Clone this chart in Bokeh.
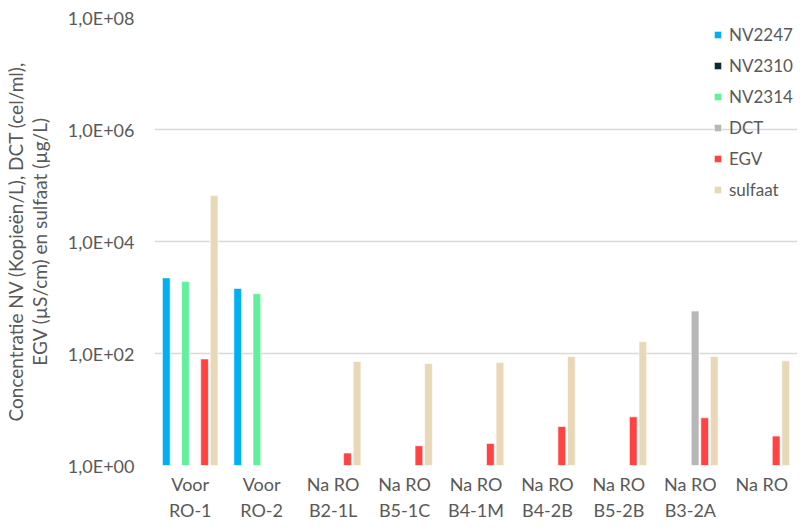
from bokeh.plotting import figure
from bokeh.models import ColumnDataSource, FactorRange, Range1d, FixedTicker, Legend, LegendItem
from bokeh.transform import dodge
from bokeh.embed import file_html
from bokeh.resources import INLINE

nan = float("nan")

categories = ["Voor\nRO-1", "Voor\nRO-2", "Na RO\nB2-1L", "Na RO\nB5-1C", "Na RO\nB4-1M",
              "Na RO\nB4-2B", "Na RO\nB5-2B", "Na RO\nB3-2A", "Na RO"]

nv2247 = [2240, 1450, nan, nan, nan, nan, nan, nan, nan]
nv2310 = [nan, nan, nan, nan, nan, nan, nan, nan, nan]
nv2314 = [1940, 1170, nan, nan, nan, nan, nan, nan, nan]
dct = [nan, nan, nan, nan, nan, nan, nan, 572, nan]
egv = [80, nan, 1.67, 2.25, 2.47, 4.97, 7.4, 7.1, 3.35]
sulfaat = [66000, nan, 72, 66, 69, 88, 162, 88, 74]

series_names = ["NV2247", "NV2310", "NV2314", "DCT", "EGV", "sulfaat"]
series_values = [nv2247, nv2310, nv2314, dct, egv, sulfaat]
series_colors = ["#00B0F0", "#0E2A35", "#62F09C", "#B7B7B7", "#FF4343", "#E8D8B8"]

y_ticks = [1, 1e2, 1e4, 1e6, 1e8]
y_tick_labels = ["1,0E+00", "1,0E+02", "1,0E+04", "1,0E+06", "1,0E+08"]

data = {"cats": categories}
for name, vals in zip(series_names, series_values):
    data[name] = vals
source = ColumnDataSource(data)

p = figure(width=804, height=528, x_range=FactorRange(*categories, range_padding=0),
           y_range=Range1d(1, 1e8), y_axis_type="log",
           output_backend="svg", toolbar_location=None,
           min_border_left=152, min_border_right=7, min_border_top=17, min_border_bottom=63)
p.outline_line_color = None
p.background_fill_color = "white"

step = 0.134
width = 0.108
items = []
for i, (name, col) in enumerate(zip(series_names, series_colors)):
    off = (i - 2.5) * step
    r = p.vbar(x=dodge("cats", off, range=p.x_range), top=name, bottom=1, width=width,
               source=source, fill_color=col, line_color="white", line_width=0.6)
    items.append(LegendItem(label=name, renderers=[r]))

legend = Legend(items=items, location=(559, 265), border_line_color=None,
                background_fill_alpha=0, label_text_font="Lato", label_text_font_size="17px",
                label_text_color="#595959", glyph_width=9, glyph_height=9,
                spacing=9, label_height=22, label_standoff=7, padding=0, margin=0)
p.add_layout(legend, "center")

p.xgrid.grid_line_color = None
p.ygrid.grid_line_color = "#D9D9D9"
p.ygrid.grid_line_width = 1.5
p.ygrid.ticker = FixedTicker(ticks=y_ticks)
p.yaxis.ticker = FixedTicker(ticks=y_ticks)
p.yaxis.major_label_overrides = {t: l for t, l in zip(y_ticks, y_tick_labels)}

for ax in [p.xaxis[0], p.yaxis[0]]:
    ax.axis_line_color = None
    ax.major_tick_line_color = None
    ax.minor_tick_line_color = None
    ax.major_tick_out = 0
    ax.major_tick_in = 0
    ax.minor_tick_out = 0
    ax.minor_tick_in = 0
    ax.major_label_text_font = "Lato"
    ax.major_label_text_font_size = "18px"
    ax.major_label_text_color = "#595959"

p.xaxis.major_label_text_line_height = 1.2
p.xaxis.major_label_standoff = 7
p.yaxis.major_label_standoff = 20

p.yaxis.axis_label = "Concentratie NV (Kopieën/L), DCT (cel/ml),\nEGV (µS/cm) en sulfaat (µg/L)"
p.yaxis.axis_label_text_font = "Lato"
p.yaxis.axis_label_text_font_size = "19px"
p.yaxis.axis_label_text_font_style = "normal"
p.yaxis.axis_label_text_color = "#595959"
p.yaxis.axis_label_text_line_height = 1.05
p.yaxis.axis_label_standoff = 14

open("out.html", "w").write(file_html(p, INLINE))
